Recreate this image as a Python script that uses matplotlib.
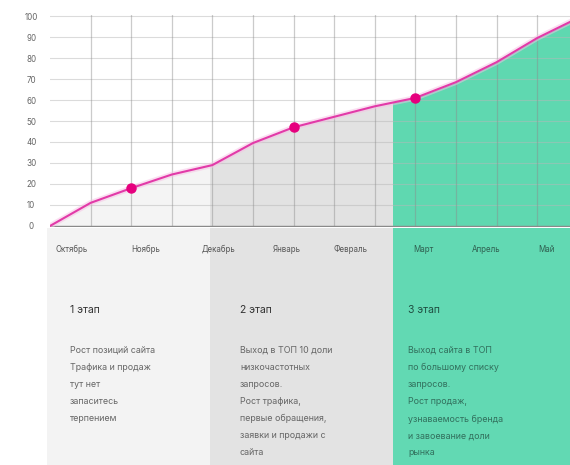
import matplotlib
matplotlib.use('Agg')
import matplotlib.pyplot as plt
import matplotlib.patheffects as pe
from matplotlib.patches import Rectangle
import numpy as np

plt.rcParams['font.family'] = ['Inter', 'DejaVu Sans']

# ---------------- data ----------------
# x in grid units (one vertical grid line per unit)
line_x = [0, 1, 2, 3, 4, 5, 6, 7, 8, 9, 10, 11, 12, 13]
line_y = [0, 11, 18, 24.5, 29, 39.5, 47, 52, 57, 61, 68.5, 78, 89.5, 99]
marker_x = [2, 6, 9]
marker_y = [18, 47, 61]

months = ['Октябрь', 'Ноябрь', 'Декабрь', 'Январь', 'Февраль', 'Март', 'Апрель', 'Май']
month_x = [0.54, 2.36, 4.14, 5.84, 7.41, 9.19, 10.74, 12.24]

yticks = [0, 10, 20, 30, 40, 50, 60, 70, 80, 90, 100]

phase_edges = [0, 3.95, 8.45, 12.81]
stage_titles = ['1 этап', '2 этап', '3 этап']
stage_texts = [
    'Рост позиций сайта\nТрафика и продаж\nтут нет\nзапаситесь\nтерпением',
    'Выход в ТОП 10 доли\nнизкочастотных\nзапросов.\nРост трафика,\nпервые обращения,\nзаявки и продажи с\nсайта',
    'Выход сайта в ТОП\nпо большому списку\nзапросов.\nРост продаж,\nузнаваемость бренда\nи завоевание доли\nрынка',
]

# ---------------- style ----------------
fill_colors = ['#f4f4f4', '#e2e2e2', '#5fd8b0']
panel_colors = ['#f3f3f3', '#e3e3e3', '#62d9b3']
title_colors = ['#333333', '#333333', '#1f4f42']
body_colors = ['#666666', '#666666', '#32705d']
month_colors = ['#555555'] * 5 + ['#2f5f50'] * 3
stage_text_x = [0.49, 4.68, 8.82]
line_color = '#e23aa8'
marker_color = '#e6007e'

fig = plt.figure(figsize=(5.70, 4.65), dpi=100)

# ---------------- chart ----------------
ax = fig.add_axes([50 / 570, 238 / 465, 520 / 570, 212 / 465])
xmax = phase_edges[-1]
ax.set_xlim(0, xmax)
ax.set_ylim(-0.5, 100.5)

for i in range(3):
    poly = ax.fill_between(line_x, line_y, 0, color=fill_colors[i], lw=0, zorder=1)
    rect = Rectangle((phase_edges[i], -1), phase_edges[i + 1] - phase_edges[i], 102,
                     transform=ax.transData, visible=False)
    ax.add_patch(rect)
    poly.set_clip_path(rect)

for v in yticks:
    ax.axhline(v, color='#b8b8b8', lw=0.8, alpha=0.5, zorder=2)
for g in range(1, 13):
    ax.axvline(g, color='#8c8c8c', lw=0.9, alpha=0.45, zorder=2)
ax.axhline(0, color='#8a8a8a', lw=1.0, zorder=3)

ax.plot(line_x, line_y, color=line_color, lw=1.5, zorder=5,
        path_effects=[pe.Stroke(linewidth=4, foreground='#f7c0e4', alpha=0.5), pe.Normal()])
ax.plot(marker_x, marker_y, 'o', color=marker_color, ms=6.5, zorder=6)

for s in ax.spines.values():
    s.set_visible(False)
ax.set_xticks([])
ax.set_yticks(yticks)
ax.set_yticklabels([str(v) for v in yticks], ha='center', fontsize=5.8, color='#666666')
ax.tick_params(axis='y', length=0, pad=13.5)

# ---------------- stage panels ----------------
axb = fig.add_axes([50 / 570, 0, 520 / 570, 237 / 465], sharex=ax)
axb.set_ylim(237, 0)
axb.set_xlim(0, xmax)
for i in range(3):
    x0 = phase_edges[i] - (0.08 if i == 0 else 0)
    axb.add_patch(Rectangle((x0, 0), phase_edges[i + 1] - x0, 237,
                            color=panel_colors[i], lw=0, clip_on=False))
    axb.text(stage_text_x[i], 82, stage_titles[i], fontsize=7.5, color=title_colors[i],
             va='center', ha='left')
    axb.text(stage_text_x[i], 118, stage_texts[i], fontsize=6.4, color=body_colors[i],
             va='top', ha='left', linespacing=2.13)

for m, mx, c in zip(months, month_x, month_colors):
    axb.text(mx, 21, m, fontsize=5.7, color=c, ha='center', va='center')
axb.axis('off')

fig.savefig('out.png', dpi=100)
